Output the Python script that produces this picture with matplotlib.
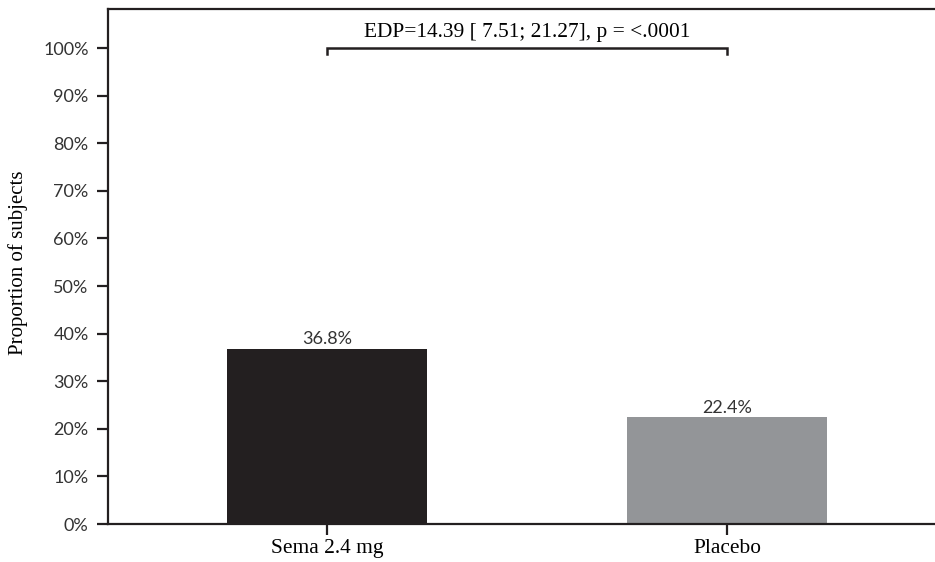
import matplotlib
matplotlib.use('Agg')
from matplotlib import pyplot as plt
from matplotlib.ticker import PercentFormatter

# data
groups = ['Sema 2.4 mg', 'Placebo']
proportions = [36.8, 22.4]
bar_colors = ['#231f20', '#939598']
edp_text = 'EDP=14.39 [ 7.51; 21.27], p = <.0001'
y_ticks = list(range(0, 101, 10))

ink = '#231f20'
sans = ['Lato', 'DejaVu Sans']
serif = ['Liberation Serif', 'DejaVu Serif']

fig = plt.figure(figsize=(9.35, 5.62), dpi=100)
ax = fig.add_axes([0.1155, 0.0676, 0.8845, 0.9164])

x = list(range(len(groups)))
ax.bar(x, proportions, width=0.5, color=bar_colors, edgecolor='none')

for xi, val in zip(x, proportions):
    ax.text(xi, val + 1.0, '{:.1f}%'.format(val), ha='center', va='baseline',
            fontsize=13, color='#333333', family=sans)

# bracket with the treatment difference
bx0, bx1, by = x[0], x[1], 100
ax.plot([bx0, bx0, bx1, bx1], [by - 1.2, by, by, by - 1.2], color=ink, lw=1.8,
        solid_joinstyle='miter', clip_on=False)
ax.text((bx0 + bx1) / 2, by + 2.3, edp_text, ha='center', va='baseline',
        fontsize=15.4, color='black', family=serif)

ax.set_xlim(-0.5475, 1.52)
ax.set_ylim(0, 108.2)
ax.set_yticks(y_ticks)
ax.yaxis.set_major_formatter(PercentFormatter(decimals=0))
ax.set_xticks(x)
ax.set_xticklabels(groups, family=serif, fontsize=15.4)
for lab in ax.get_yticklabels():
    lab.set_family(sans)
    lab.set_fontsize(13)
    lab.set_color('#333333')

ax.set_ylabel('Proportion of subjects', family=serif, fontsize=15, va='center')
ax.yaxis.set_label_coords(-0.109, 0.507)

ax.tick_params(axis='y', length=8, width=1.6, color=ink, pad=6)
ax.tick_params(axis='x', length=8, width=1.6, color=ink, pad=3)
for side in ['left', 'bottom', 'top']:
    ax.spines[side].set_linewidth(1.6)
    ax.spines[side].set_color(ink)
ax.spines['right'].set_visible(False)

plt.savefig('out.png', dpi=100)
